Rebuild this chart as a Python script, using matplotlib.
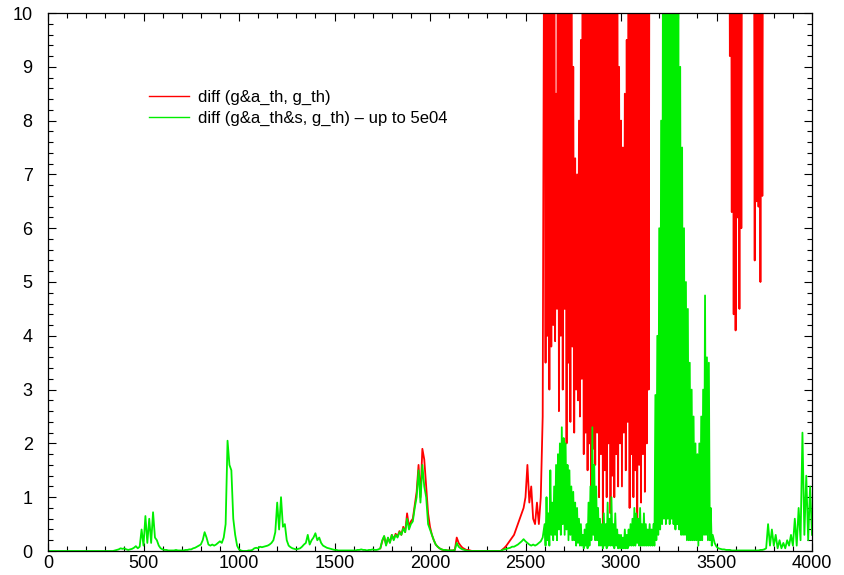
import numpy as np
import matplotlib
matplotlib.use("Agg")
import matplotlib.pyplot as plt
from matplotlib.ticker import MultipleLocator

plt.rcParams['font.family'] = ['Liberation Sans', 'DejaVu Sans']

# ---------------- green series ----------------
# green part A: x = 0, 10, ..., 2590
green_a_x0, green_a_step = 0, 10
green_a = [
    # 0-340
    0, 0, 0, 0, 0, 0, 0, 0, 0, 0, 0, 0, 0, 0, 0, 0, 0, 0, 0, 0,
    0, 0, 0, 0, 0, 0, 0, 0, 0, 0, 0, 0, 0, 0, 0,
    # 350-480
    0.01, 0.02, 0.03, 0.05, 0.04, 0.05, 0.03, 0.02, 0.03, 0.04, 0.06, 0.09, 0.05, 0.08,
    # 490-580
    0.40, 0.10, 0.65, 0.15, 0.60, 0.15, 0.72, 0.25, 0.20, 0.10,
    # 590-760
    0.05, 0.03, 0.02, 0.02, 0.01, 0.01, 0.01, 0.01, 0.02, 0.01, 0.01, 0.01, 0.01, 0.02, 0.02, 0.03, 0.03, 0.05,
    # 770-920
    0.06, 0.08, 0.10, 0.12, 0.20, 0.35, 0.25, 0.12, 0.10, 0.12, 0.10, 0.12, 0.15, 0.18, 0.15, 0.25,
    # 930-1000
    0.50, 2.05, 1.60, 1.50, 0.60, 0.30, 0.10, 0.03,
    # 1010-1080
    0.01, 0.0, 0.0, 0.0, 0.01, 0.01, 0.02, 0.05,
    # 1090-1190
    0.06, 0.05, 0.08, 0.07, 0.08, 0.09, 0.10, 0.12, 0.15, 0.20, 0.35,
    # 1200-1260
    0.90, 0.40, 1.00, 0.45, 0.50, 0.20, 0.10,
    # 1270-1330
    0.07, 0.05, 0.04, 0.03, 0.04, 0.05, 0.08,
    # 1340-1460
    0.12, 0.15, 0.30, 0.12, 0.20, 0.25, 0.33, 0.20, 0.25, 0.15, 0.10, 0.08, 0.06,
    # 1470-1740
    0.05, 0.04, 0.03, 0.02, 0.02, 0.01, 0.01, 0.01, 0.01, 0.01, 0.01, 0.01, 0.01, 0.01,
    0.01, 0.02, 0.02, 0.03, 0.02, 0.02, 0.01, 0.02, 0.02, 0.03, 0.02, 0.02, 0.03, 0.05,
    # 1750-1900
    0.20, 0.28, 0.10, 0.25, 0.15, 0.30, 0.20, 0.30, 0.25, 0.35, 0.30, 0.42, 0.35, 0.60, 0.40, 0.50,
    # 1910-2000
    0.55, 0.80, 1.00, 1.50, 0.90, 1.60, 1.20, 1.00, 0.50, 0.40,
    # 2010-2130
    0.30, 0.20, 0.12, 0.08, 0.05, 0.03, 0.02, 0.02, 0.01, 0.01, 0.01, 0.01, 0.02,
    # 2140-2370
    0.15, 0.08, 0.05, 0.03, 0.02, 0.01,
    0, 0, 0, 0, 0, 0, 0, 0, 0, 0, 0, 0, 0, 0, 0, 0, 0, 0,
    # 2380-2590
    0.02, 0.03, 0.04, 0.05, 0.06, 0.08, 0.08, 0.10, 0.12, 0.15, 0.18,
    0.22, 0.18, 0.15, 0.12, 0.10, 0.12, 0.10, 0.12, 0.15, 0.18, 0.25,
]

# green part B (dense): x = 2600, 2605, ..., 3480
green_b_x0, green_b_step = 2600, 5
green_b = [
    0.5, 0.1, 1.0, 0.2, 0.7, 0.1, 1.5, 0.3, 0.9, 0.2,      # 2600-2645
    1.2, 0.3, 1.6, 0.2, 1.8, 0.4, 2.0, 0.3, 2.3, 0.5,      # 2650-2695
    2.1, 0.3, 2.0, 0.4, 1.6, 0.2, 1.5, 0.3, 1.2, 0.2,      # 2700-2745
    1.1, 0.2, 0.9, 0.1, 0.8, 0.15, 0.6, 0.1, 0.5, 0.1,     # 2750-2795
    0.3, 0.05, 0.4, 0.1, 0.5, 0.05, 0.9, 0.1, 1.2, 0.2,    # 2800-2845
    2.3, 0.3, 1.6, 0.2, 1.2, 0.2, 0.8, 0.1, 0.6, 0.1,      # 2850-2895
    0.5, 0.05, 0.7, 0.1, 0.5, 0.05, 0.9, 0.1, 0.6, 0.1,    # 2900-2945
    1.0, 0.1, 0.5, 0.05, 0.7, 0.1, 0.4, 0.05, 0.3, 0.05,   # 2950-2995
    0.3, 0.05, 0.25, 0.05, 0.4, 0.05, 0.3, 0.05, 0.4, 0.1, # 3000-3045
    0.5, 0.1, 0.6, 0.1, 0.8, 0.1, 0.7, 0.15, 0.6, 0.1,     # 3050-3095
    0.8, 0.1, 0.5, 0.1, 0.7, 0.1, 0.5, 0.1, 0.4, 0.1,      # 3100-3145
    0.5, 0.1, 0.4, 0.1, 0.5, 0.1, 2.9, 0.2, 4.0, 0.3,      # 3150-3195
    6.0, 0.4, 8.0, 0.5, 12, 0.6, 12, 0.5, 12, 0.6,         # 3200-3245
    12, 0.5, 12, 0.6, 12, 0.5, 12, 0.4, 12, 0.5,           # 3250-3295
    11, 0.4, 9.0, 0.3, 7.5, 0.3, 6.0, 0.3, 5.0, 0.2,       # 3300-3345
    4.5, 0.2, 3.5, 0.2, 3.0, 0.2, 2.5, 0.2, 2.0, 0.2,      # 3350-3395
    1.8, 0.1, 2.0, 0.2, 2.5, 0.2, 3.0, 0.3, 4.75, 0.3,     # 3400-3445
    3.6, 0.2, 3.5, 0.2, 0.8, 0.1, 0.3,                     # 3450-3480
]

# green part C: x = 3490, 3500, ..., 4000
green_c_x0, green_c_step = 3490, 10
green_c = [
    # 3490-3760
    0.15, 0.08, 0.05, 0.04, 0.03, 0.03, 0.02, 0.02, 0.02, 0.01, 0.01, 0.01, 0.01, 0.01,
    0.01, 0.01, 0.01, 0.01, 0.01, 0.01, 0.01, 0.01, 0.01, 0.01, 0.02, 0.02, 0.03, 0.05,
    # 3770-3900
    0.5, 0.1, 0.4, 0.1, 0.3, 0.05, 0.2, 0.05, 0.15, 0.05, 0.2, 0.1, 0.3, 0.1,
    # 3910-4000
    0.6, 0.1, 0.8, 0.2, 2.2, 0.3, 1.4, 0.2, 1.2, 0.3,
]

# ---------------- red series (hidden behind green before 1740) ----------------
# red part A: x = 1740, 1750, ..., 2590
red_a_x0, red_a_step = 1740, 10
red_a = [
    # 1740-1900
    0.05, 0.18, 0.27, 0.12, 0.24, 0.16, 0.30, 0.22, 0.32, 0.27, 0.37, 0.30, 0.45, 0.35, 0.70, 0.45, 0.55,
    # 1910-2000
    0.60, 0.85, 1.10, 1.60, 1.00, 1.90, 1.70, 1.20, 0.70, 0.45,
    # 2010-2130
    0.30, 0.20, 0.12, 0.08, 0.05, 0.03, 0.02, 0.02, 0.01, 0.01, 0.01, 0.01, 0.02,
    # 2140-2370
    0.25, 0.15, 0.10, 0.06, 0.04, 0.02, 0.02, 0.01,
    0, 0, 0, 0, 0, 0, 0, 0, 0, 0, 0, 0, 0, 0, 0, 0,
    # 2380-2590
    0.03, 0.06, 0.10, 0.15, 0.20, 0.25, 0.30, 0.40, 0.50, 0.60, 0.70,
    0.80, 1.00, 1.60, 0.90, 1.20, 0.60, 0.50, 0.90, 0.50, 1.00, 2.50,
]

# red part B (dense): x = 2600, 2605, ..., 3150  (values above 10 are off scale)
red_b_x0, red_b_step = 2600, 5
red_b = [
    15, 3.5, 15, 4.0, 15, 3.0, 15, 3.8, 15, 4.2,       # 2600-2645
    15, 3.9, 8.5, 4.5, 15, 2.6, 15, 4.0, 15, 3.0,      # 2650-2695
    15, 4.5, 15, 2.0, 15, 3.5, 12, 2.4, 15, 3.8,       # 2700-2745
    9.0, 2.2, 7.3, 3.0, 7.0, 2.8, 8.0, 2.5, 9.5, 3.2,  # 2750-2795
    15, 1.8, 15, 2.2, 15, 1.5, 15, 2.0, 15, 1.2,       # 2800-2845
    15, 1.9, 15, 1.6, 15, 2.2, 15, 1.0, 15, 1.8,       # 2850-2895
    15, 0.4, 15, 1.5, 15, 1.0, 15, 2.0, 15, 0.7,       # 2900-2945
    15, 1.4, 15, 1.0, 15, 1.8, 15, 1.2, 9.0, 2.0,      # 2950-2995
    8.0, 1.2, 7.5, 2.2, 8.5, 1.5, 9.5, 2.4, 15, 0.8,   # 3000-3045
    15, 1.8, 15, 1.0, 15, 1.5, 15, 0.6, 15, 1.6,       # 3050-3095
    15, 0.9, 15, 1.8, 15, 1.1, 15, 2.0, 15, 3.0,       # 3100-3145
    15,                                                # 3150
]

# red part C: x = 3160, 3170, ..., 3550 (off scale)
red_c_x0, red_c_step = 3160, 10
red_c = [
    15, 15, 15, 15, 15, 15, 15, 15, 15, 15, 15, 15, 15, 15, 15, 15, 15, 15, 15, 15,
    15, 15, 15, 15, 15, 15, 15, 15, 15, 15, 15, 15, 15, 15, 15, 15, 15, 15, 15, 15,
]

# red part D (dense): x = 3560, 3565, ..., 3760
red_d_x0, red_d_step = 3560, 5
red_d = [
    15, 15, 9.2, 15, 6.3, 15, 4.4, 15, 4.1, 15,      # 3560-3605
    6.2, 15, 4.5, 15, 6.0, 15, 15, 15, 15, 15,       # 3610-3655
    15, 15, 15, 15, 15, 15, 15, 15, 5.4, 15,         # 3660-3705
    6.5, 15, 6.4, 15, 5.0, 15, 6.6, 15, 15, 15,      # 3710-3755
    15,                                              # 3760
]

# red part E: x = 3770, 3780, ..., 4000 (off scale)
red_e_x0, red_e_step = 3770, 10
red_e = [
    15, 15, 15, 15, 15, 15, 15, 15, 15, 15, 15, 15,
    15, 15, 15, 15, 15, 15, 15, 15, 15, 15, 15, 15,
]

labels = ["diff (g&a_th, g_th)", "diff (g&a_th&s, g_th) \u2013 up to 5e04"]
x_ticks = [0, 500, 1000, 1500, 2000, 2500, 3000, 3500, 4000]
y_ticks = [0, 1, 2, 3, 4, 5, 6, 7, 8, 9, 10]


def build(parts):
    xs, ys = [], []
    for x0, step, vals in parts:
        xs.append(x0 + np.arange(len(vals)) * step)
        ys.append(np.asarray(vals, dtype=float))
    return np.concatenate(xs), np.concatenate(ys)


green_x, green_y = build([(green_a_x0, green_a_step, green_a),
                          (green_b_x0, green_b_step, green_b),
                          (green_c_x0, green_c_step, green_c)])
red_x, red_y = build([(red_a_x0, red_a_step, red_a),
                      (red_b_x0, red_b_step, red_b),
                      (red_c_x0, red_c_step, red_c),
                      (red_d_x0, red_d_step, red_d),
                      (red_e_x0, red_e_step, red_e)])

fig = plt.figure(figsize=(8.44, 5.75), dpi=100)
ax = fig.add_axes([48 / 844, 24 / 575, 764 / 844, 538 / 575])

ax.plot(red_x, red_y, color='#ff0000', lw=1.3, label=labels[0])
ax.plot(green_x, green_y, color='#00ee00', lw=1.3, label=labels[1])

ax.set_xlim(0, 4000)
ax.set_ylim(0, 10)
ax.set_xticks(x_ticks)
ax.set_yticks(y_ticks)
ax.xaxis.set_minor_locator(MultipleLocator(100))
ax.yaxis.set_minor_locator(MultipleLocator(0.2))
ax.tick_params(which='both', direction='in', top=True, right=True, labelsize=13, colors='black')
ax.tick_params(which='major', length=6, width=0.8)
ax.tick_params(which='minor', length=3.5, width=0.8)
ax.tick_params(axis='x', pad=3)
ax.tick_params(axis='y', pad=11)
for s in ax.spines.values():
    s.set_linewidth(0.9)

leg = ax.legend(loc='upper left', bbox_to_anchor=(0.113, 0.885), frameon=False,
                fontsize=12, handlelength=2.4, handletextpad=0.5, labelspacing=0.33)
for h in leg.get_lines():
    h.set_linewidth(1.0)

fig.savefig('out.png', dpi=100)
